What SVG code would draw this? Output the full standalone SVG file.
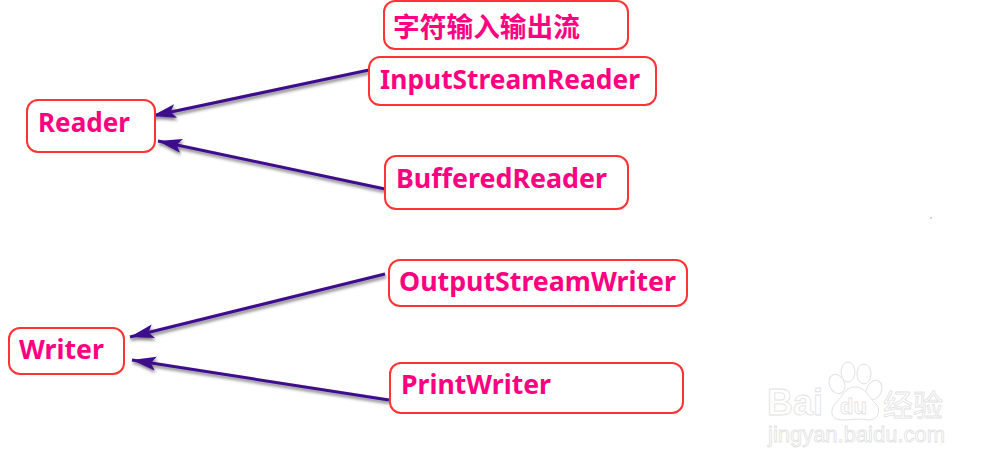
<svg xmlns="http://www.w3.org/2000/svg" width="1000" height="470" viewBox="0 0 1000 470">
<defs>
<marker id="arr" markerUnits="userSpaceOnUse" markerWidth="26" markerHeight="18" refX="24" refY="9" orient="auto"><path d="M0 2L24 9L0 16L5 9Z" fill="#3d0a8c"/></marker>
<filter id="sh" x="-10%" y="-40%" width="120%" height="200%"><feDropShadow dx="1" dy="2.500" stdDeviation="1.500" flood-color="#000" flood-opacity="0.5"/></filter>
</defs>
<style>
.box{fill:#fff;stroke:#ff3333;stroke-width:2}
.t{font-family:"Noto Sans","Open Sans","Noto Sans CJK SC",sans-serif;font-weight:700;font-size:27px;fill:#ff0080}
.c{fill:none;stroke:#3d0a8c;stroke-width:3;marker-end:url(#arr)}
.wm{fill:#fff;stroke:#e2e2e2;stroke-width:1}
.wt{font-family:"Liberation Sans",sans-serif;fill:#fff;stroke:#e2e2e2;stroke-width:.8}
</style>
<rect width="1000" height="470" fill="#fff"/>
<g id="connectors" filter="url(#sh)">
<line class="c" x1="369" y1="70" x2="152" y2="116"/>
<line class="c" x1="385" y1="189" x2="158" y2="141"/>
<line class="c" x1="385" y1="274" x2="130" y2="337"/>
<line class="c" x1="389" y1="400" x2="132" y2="360"/>
</g>
<g id="title"><rect class="box" x="384" y="1" width="244" height="48" rx="11"/><text class="t" x="393" y="37" textLength="187" lengthAdjust="spacingAndGlyphs" style="font-family:'Noto Sans CJK SC',sans-serif;font-size:27px">字符输入输出流</text></g>
<g id="input-stream-reader"><rect class="box" x="369" y="57" width="287" height="48" rx="11"/><text class="t" x="380" y="89" textLength="260" lengthAdjust="spacingAndGlyphs">InputStreamReader</text></g>
<g id="reader"><rect class="box" x="27" y="100" width="128" height="52" rx="11"/><text class="t" x="38" y="132" textLength="92" lengthAdjust="spacingAndGlyphs">Reader</text></g>
<g id="buffered-reader"><rect class="box" x="385" y="156" width="243" height="53" rx="11"/><text class="t" x="396" y="188" textLength="211" lengthAdjust="spacingAndGlyphs">BufferedReader</text></g>
<g id="output-stream-writer"><rect class="box" x="389" y="260" width="298" height="46" rx="11"/><text class="t" x="399" y="291" textLength="277" lengthAdjust="spacingAndGlyphs">OutputStreamWriter</text></g>
<g id="writer"><rect class="box" x="9" y="328" width="115" height="46" rx="11"/><text class="t" x="19" y="359" textLength="85" lengthAdjust="spacingAndGlyphs">Writer</text></g>
<g id="print-writer"><rect class="box" x="390" y="363" width="293" height="50" rx="11"/><text class="t" x="401" y="394" textLength="150" lengthAdjust="spacingAndGlyphs">PrintWriter</text></g>
<g id="watermark">
<ellipse class="wm" cx="837" cy="384" rx="7.500" ry="10" transform="rotate(-25 837 384)"/>
<ellipse class="wm" cx="848" cy="372" rx="7" ry="10"/>
<ellipse class="wm" cx="864" cy="374" rx="7" ry="10"/>
<ellipse class="wm" cx="874" cy="390" rx="7.500" ry="10" transform="rotate(25 874 390)"/>
<path class="wm" d="M855 387C845 387 842 397 837 402C829 409 830 420 842 420C850 420 860 418 868 420C880 420 881 408 875 403C869 398 866 387 855 387Z"/>
<text class="wt" x="767" y="415" font-size="36" font-weight="700">Bai</text>
<text class="wt" x="840" y="414" font-size="22" font-weight="700">du</text>
<text class="wt" x="883" y="416" font-size="30" style="font-family:'Noto Sans CJK SC',sans-serif">经验</text>
<text class="wt" x="768" y="442" font-size="21.500" textLength="177" lengthAdjust="spacingAndGlyphs">jingyan.baidu.com</text>
</g>
<circle cx="931" cy="218" r="0.8" fill="#e08080"/>
</svg>
